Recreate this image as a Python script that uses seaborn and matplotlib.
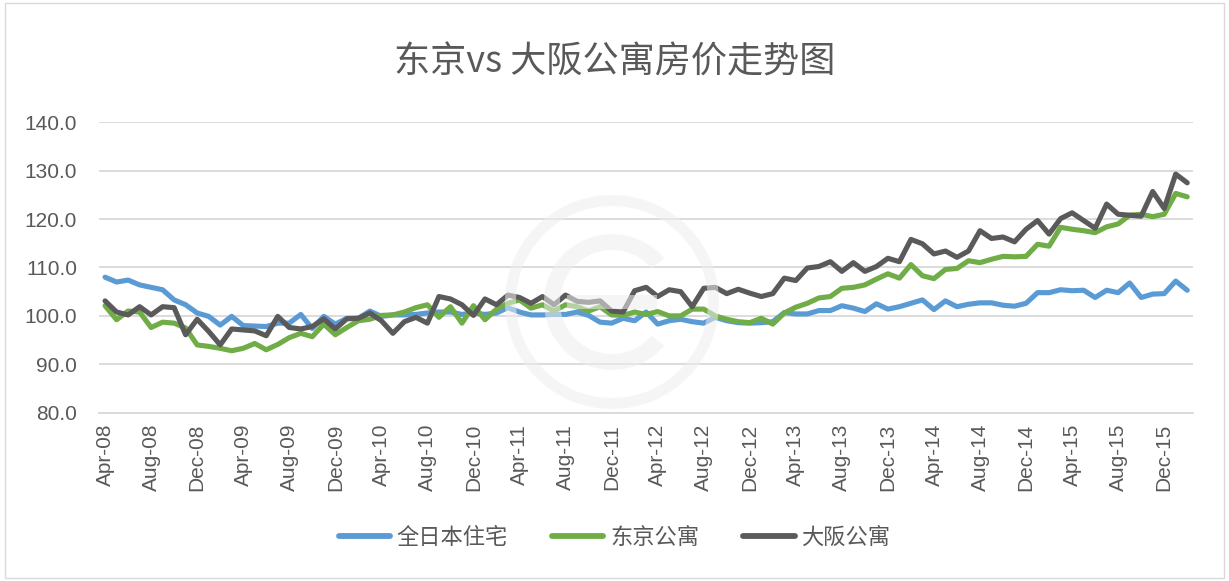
import numpy as np
import pandas as pd
import matplotlib
matplotlib.use("Agg")
import matplotlib.pyplot as plt
import seaborn as sns
from matplotlib.patches import Wedge, Rectangle
from matplotlib.lines import Line2D
from matplotlib.ticker import FormatStrFormatter

# ---------------- data ----------------
series_names = ["全日本住宅", "东京公寓", "大阪公寓"]

all_japan = [108.0, 107.0, 107.4, 106.4, 105.9, 105.4, 103.3, 102.3, 100.6, 99.9, 98.1, 99.9,
             98.0, 97.9, 97.8, 98.5, 98.5, 100.3, 97.4, 99.9, 98.3, 99.5, 99.5, 101.0,
             99.9, 100.2, 100.2, 100.3, 100.6, 100.8, 100.8, 100.3, 100.6, 100.3, 100.6, 101.7,
             100.8, 100.2, 100.2, 100.3, 100.3, 100.8, 100.1, 98.7, 98.5, 99.5, 99.0, 100.8,
             98.3, 99.0, 99.3, 98.8, 98.5, 99.7, 99.0, 98.6, 98.5, 98.6, 98.8, 100.7,
             100.4, 100.4, 101.1, 101.1, 102.1, 101.6, 100.9, 102.5, 101.4, 101.9, 102.6, 103.3,
             101.3, 103.1, 101.9, 102.4, 102.7, 102.7, 102.2, 102.0, 102.6, 104.8, 104.8, 105.4,
             105.2, 105.3, 103.8, 105.3, 104.8, 106.8, 103.8, 104.5, 104.6, 107.2, 105.3]

tokyo = [102.1, 99.2, 101.0, 100.8, 97.6, 98.7, 98.5, 97.5, 94.0, 93.7, 93.3, 92.8,
         93.3, 94.3, 93.0, 94.1, 95.5, 96.4, 95.7, 98.3, 96.1, 97.6, 99.0, 99.3,
         100.1, 100.2, 100.8, 101.7, 102.3, 99.7, 101.9, 98.5, 102.1, 99.2, 101.4, 102.6,
         103.3, 101.6, 102.3, 101.0, 102.3, 101.9, 101.0, 101.9, 100.2, 100.1, 100.8, 100.3,
         100.9, 100.0, 100.0, 101.4, 101.4, 100.0, 99.3, 98.8, 98.6, 99.5, 98.3, 100.6,
         101.8, 102.6, 103.7, 104.0, 105.7, 105.9, 106.4, 107.6, 108.7, 107.8, 110.6, 108.3,
         107.7, 109.6, 109.8, 111.4, 111.0, 111.7, 112.3, 112.2, 112.3, 114.8, 114.4, 118.3,
         117.9, 117.6, 117.2, 118.4, 119.0, 120.8, 121.0, 120.5, 121.0, 125.3, 124.6]

osaka = [103.1, 100.8, 100.2, 101.9, 100.2, 101.9, 101.7, 96.1, 99.3, 96.8, 94.0, 97.3,
         97.1, 96.9, 95.9, 99.9, 97.6, 97.3, 97.8, 99.4, 97.3, 99.4, 99.5, 100.6,
         99.0, 96.4, 98.8, 99.7, 98.5, 104.0, 103.5, 102.3, 100.1, 103.5, 102.3, 104.3,
         103.8, 102.6, 104.0, 102.3, 104.3, 103.0, 102.8, 103.1, 101.0, 100.8, 105.2, 105.9,
         104.0, 105.4, 105.0, 101.9, 105.7, 105.9, 104.6, 105.5, 104.7, 104.0, 104.6, 107.8,
         107.3, 109.9, 110.2, 111.2, 109.2, 111.0, 109.2, 110.2, 111.9, 111.2, 115.8, 114.9,
         112.8, 113.4, 112.1, 113.4, 117.6, 116.0, 116.3, 115.3, 117.9, 119.7, 116.9, 120.1,
         121.3, 119.7, 118.1, 123.1, 121.0, 120.8, 120.6, 125.7, 122.2, 129.3, 127.5]

months = list(pd.date_range("2008-04-01", periods=len(osaka), freq="MS").strftime("%b-%y"))
y_ticks = [80, 90, 100, 110, 120, 130, 140]

colors = ["#5B9BD5", "#70AD47", "#5A5A5A"]
text_gray = "#595959"
grid_gray = "#D9D9D9"

# ---------------- figure ----------------
sns.set_theme(style="white")
plt.rcParams["font.family"] = ["Noto Sans CJK SC", "DejaVu Sans"]

n = len(osaka)
df = pd.DataFrame({
    "idx": np.tile(np.arange(n), 3),
    "value": np.concatenate([all_japan, tokyo, osaka]),
    "series": np.repeat(series_names, n),
})

fig = plt.figure(figsize=(12.29, 5.81), dpi=100)
ax = fig.add_axes([0.0808, 0.2897, 0.8899, 0.4998])

sns.lineplot(data=df, x="idx", y="value", hue="series", hue_order=series_names,
             palette=colors, linewidth=3.7, ax=ax, legend=False,
             solid_joinstyle="round", solid_capstyle="round")

ax.set_xlim(-0.5, n - 0.5)
ax.set_ylim(80, 140)
ax.set_yticks(y_ticks)
ax.yaxis.set_major_formatter(FormatStrFormatter("%.1f"))
ax.set_xlabel("")
ax.set_ylabel("")

major = list(range(0, n, 4))
ax.set_xticks(major)
ax.set_xticklabels([months[i] for i in major], rotation=90)
ax.set_xticks(np.arange(-0.5, n, 4), minor=True)
ax.tick_params(axis="x", which="major", length=0, pad=8, labelsize=15, labelcolor=text_gray)
ax.tick_params(axis="x", which="minor", length=6, width=1.2, color=grid_gray, direction="out")
ax.tick_params(axis="y", length=0, pad=16, labelsize=15, labelcolor=text_gray)
for lab in ax.get_xticklabels() + ax.get_yticklabels():
    lab.set_fontfamily(["Liberation Sans", "DejaVu Sans"])

ax.yaxis.grid(True, color=grid_gray, linewidth=1.3)
ax.xaxis.grid(False)
ax.set_axisbelow(True)
for s in ["top", "right", "left"]:
    ax.spines[s].set_visible(False)
ax.spines["bottom"].set_color(grid_gray)
ax.spines["bottom"].set_linewidth(1.3)

# title
fig.text(0.5, 1 - 62 / 581, "东京vs 大阪公寓房价走势图", ha="center", va="center",
         fontsize=26, color=text_gray, fontweight="light")

# legend
handles = [Line2D([0], [0], color=c, lw=4.2, solid_capstyle="round") for c in colors]
leg = fig.legend(handles, series_names, loc="center", bbox_to_anchor=(0.5, 1 - 537 / 581),
                 ncol=3, frameon=False, fontsize=16, handlelength=2.3, handletextpad=0.3,
                 columnspacing=2.0, labelcolor=text_gray)
for t in leg.get_texts():
    t.set_fontweight("light")

# faint watermark (semi-transparent overlay)
wm_kw = dict(transform=fig.dpi_scale_trans, facecolor="#EEEEEE", edgecolor="none",
             alpha=0.55, zorder=10)
cx, cy = 6.12, (581 - 302) / 100
fig.patches.append(Wedge((cx, cy), 1.07, 0, 360, width=0.11, **wm_kw))
fig.patches.append(Wedge((cx, cy), 0.68, 40, 320, width=0.16, **wm_kw))
fig.patches.append(Rectangle((cx - 0.45, cy - 0.07), 0.9, 0.14, **wm_kw))

# chart border
fig.patches.append(Rectangle((0.004, 0.006), 0.992, 0.988, transform=fig.transFigure,
                             fill=False, edgecolor=grid_gray, linewidth=1.0))

fig.savefig("out.png", dpi=100)
